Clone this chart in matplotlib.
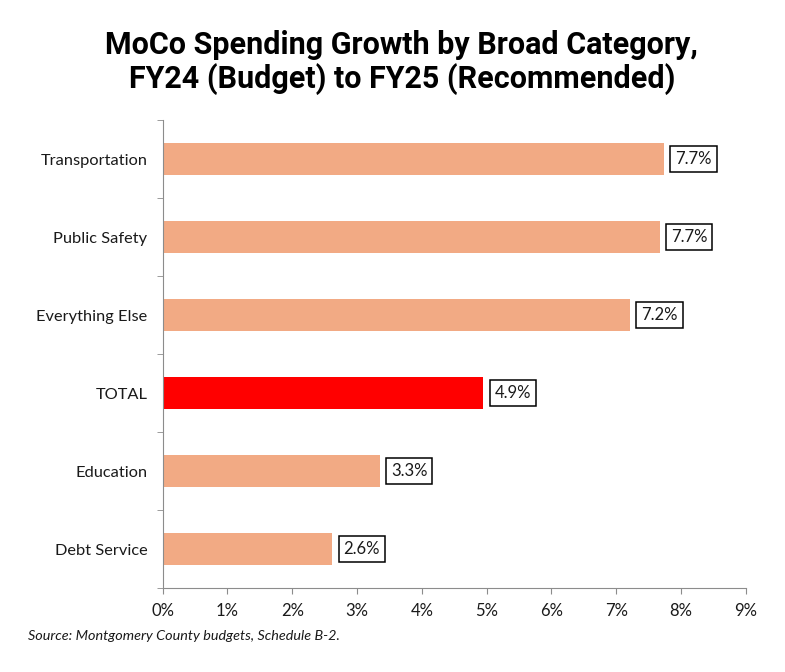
import matplotlib.pyplot as plt
import numpy as np

# data (percent growth)
categories = ["Transportation", "Public Safety", "Everything Else", "TOTAL", "Education", "Debt Service"]
growth = [7.74, 7.67, 7.21, 4.95, 3.35, 2.62]
labels = ["7.7%", "7.7%", "7.2%", "4.9%", "3.3%", "2.6%"]
colors = ["#F2AA84", "#F2AA84", "#F2AA84", "#FF0000", "#F2AA84", "#F2AA84"]
xticks = np.arange(0, 10, 1)

fig = plt.figure(figsize=(7.85, 6.72), dpi=100)
ax = fig.add_axes([0.2072, 0.125, 0.743, 0.696])

y = np.arange(len(categories))[::-1]
ax.barh(y, growth, height=0.41, color=colors)

for yi, v, lab in zip(y, growth, labels):
    ax.annotate(lab, (v, yi), xytext=(8, 0), textcoords="offset points",
                va="center", ha="left", fontsize=12, family="Lato", color="#1a1a1a",
                bbox=dict(boxstyle="square,pad=0.3", fc="white", ec="black", lw=1.1))

ax.set_xlim(0, 9)
ax.set_ylim(-0.5, len(categories) - 0.5)
ax.set_xticks(xticks)
ax.set_xticklabels([f"{t}%" for t in xticks], fontsize=12, family="Lato", color="#1a1a1a")
ax.set_yticks(y)
ax.set_yticklabels(categories, fontsize=11.8, family="Lato", color="#1a1a1a")
ax.set_yticks(np.arange(-0.5, len(categories), 1), minor=True)
ax.tick_params(axis="y", which="major", length=0, pad=11)
ax.tick_params(axis="y", which="minor", length=4, color="#8c8c8c")
ax.tick_params(axis="x", length=4, color="#8c8c8c", pad=7)

for s in ["top", "right"]:
    ax.spines[s].set_visible(False)
for s in ["left", "bottom"]:
    ax.spines[s].set_color("#8c8c8c")

fig.text(0.512, 0.907, "MoCo Spending Growth by Broad Category,\nFY24 (Budget) to FY25 (Recommended)",
         ha="center", va="center", fontsize=22, fontweight="bold",
         family="Roboto", linespacing=1.12)
fig.text(0.036, 0.047, "Source: Montgomery County budgets, Schedule B-2.", fontsize=10.4,
         style="italic", family="Lato", color="#1a1a1a")

fig.savefig("out.png", dpi=100)
